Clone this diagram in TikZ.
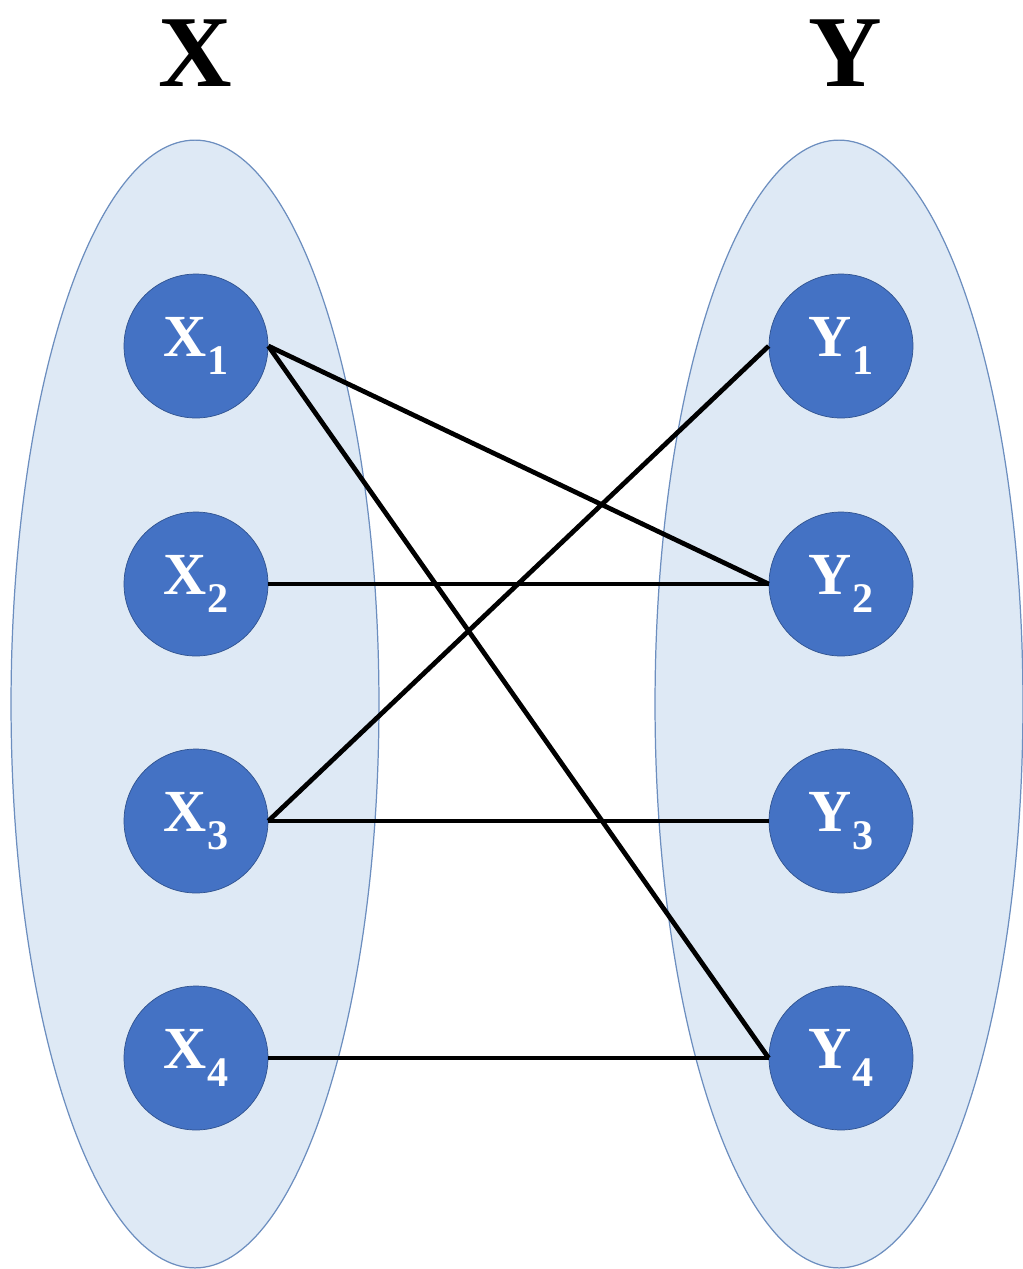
\documentclass[tikz,border=0pt]{standalone}
\usepackage{fontspec}
\setmainfont{Liberation Serif}
\usepackage{xcolor}
\definecolor{SetFill}{HTML}{DEE9F5}
\definecolor{SetLine}{HTML}{6C8EBF}
\definecolor{DotBlue}{HTML}{4472C4}
\definecolor{DotLine}{HTML}{2F528F}
\usetikzlibrary{shapes.geometric}
\newcommand{\lowidx}[1]{\raisebox{-0.3em}{\fontsize{24}{24}\selectfont #1}}

\begin{document}
\begin{tikzpicture}[x=0.02cm,y=-0.02cm,
  setbox/.style={ellipse,draw=SetLine,fill=SetFill,line width=0.7pt,minimum width=7.36cm,minimum height=22.56cm,inner sep=0pt},
  dot/.style={circle,fill=DotBlue,draw=DotLine,line width=0.4pt,minimum size=2.88cm,inner sep=0pt,text=white,font=\fontsize{34}{34}\selectfont\bfseries},
  setname/.style={font=\fontsize{58}{58}\selectfont\bfseries},
  link/.style={line width=2.7pt}]
  \useasboundingbox (0,0) rectangle (1022,1269);
  % the two sets
  \node[setbox] (setX) at (195,704) {};
  \node[setbox] (setY) at (839,704) {};
  \node[setname] (nameX) at (195,53) {X};
  \node[setname] (nameY) at (845,53) {Y};
  % elements
  \foreach \i/\y in {1/346,2/584,3/821,4/1058} {
    \node[dot] (x\i) at (196,\y) {X\lowidx{\i}};
    \node[dot] (y\i) at (841,\y) {Y\lowidx{\i}};
  }
  % relation
  \draw[link] (x1.east) -- (y2.west);
  \draw[link] (x1.east) -- (y4.west);
  \draw[link] (x2.east) -- (y2.west);
  \draw[link] (x3.east) -- (y1.west);
  \draw[link] (x3.east) -- (y3.west);
  \draw[link] (x4.east) -- (y4.west);
\end{tikzpicture}
\end{document}
